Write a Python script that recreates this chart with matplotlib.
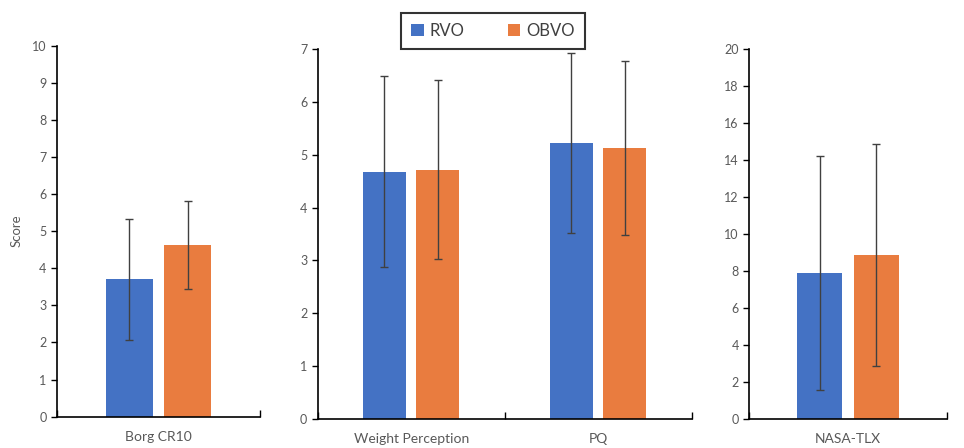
import numpy as np
import matplotlib.pyplot as plt

# Data (mean and SD per questionnaire)
groups = ['RVO', 'OBVO']
borg_labels = ['Borg CR10']
borg_rvo = [3.70]
borg_rvo_sd = [1.63]
borg_obvo = [4.63]
borg_obvo_sd = [1.19]

mid_labels = ['Weight Perception', 'PQ']
mid_rvo = [4.68, 5.22]
mid_rvo_sd = [1.80, 1.71]
mid_obvo = [4.72, 5.13]
mid_obvo_sd = [1.70, 1.64]

tlx_labels = ['NASA-TLX']
tlx_rvo = [7.88]
tlx_rvo_sd = [6.35]
tlx_obvo = [8.87]
tlx_obvo_sd = [6.00]

blue = '#4472C4'
orange = '#E97C3F'
grey_text = '#595959'

plt.rcParams['font.family'] = ['Lato', 'DejaVu Sans']

fig = plt.figure(figsize=(9.64, 4.48), dpi=100)
ax1 = fig.add_axes([0.0591, 0.070, 0.2106, 0.828])
ax2 = fig.add_axes([0.3296, 0.0647, 0.3879, 0.8259])
ax3 = fig.add_axes([0.7773, 0.0654, 0.2047, 0.8252])

width = 0.23
offset = 0.143
err_kw = dict(ecolor='#404040', elinewidth=1, capsize=3, capthick=1)


def panel(ax, labels, rvo, rvo_sd, obvo, obvo_sd, ymax, step):
    x = np.arange(len(labels))
    b1 = ax.bar(x - offset, rvo, width, yerr=rvo_sd, color=blue, error_kw=err_kw, label=groups[0])
    b2 = ax.bar(x + offset, obvo, width, yerr=obvo_sd, color=orange, error_kw=err_kw, label=groups[1])
    ax.set_xlim(-0.5, len(labels) - 0.5)
    ax.set_ylim(0, ymax)
    ax.set_yticks(np.arange(0, ymax + step / 2, step))
    ax.set_xticks(x)
    ax.set_xticklabels(labels, fontsize=10, color=grey_text)
    ax.set_xticks(np.arange(len(labels) + 1) - 0.5, minor=True)
    ax.tick_params(axis='x', which='major', length=0, pad=10)
    ax.tick_params(axis='x', which='minor', direction='in', length=5, width=1, color='black')
    ax.tick_params(axis='y', labelsize=9, labelcolor=grey_text, length=4, width=1, color='black')
    for s in ['top', 'right']:
        ax.spines[s].set_visible(False)
    for s in ['left', 'bottom']:
        ax.spines[s].set_linewidth(1.2)
        ax.spines[s].set_color('black')
    return b1, b2


panel(ax1, borg_labels, borg_rvo, borg_rvo_sd, borg_obvo, borg_obvo_sd, 10, 1)
h = panel(ax2, mid_labels, mid_rvo, mid_rvo_sd, mid_obvo, mid_obvo_sd, 7, 1)
panel(ax3, tlx_labels, tlx_rvo, tlx_rvo_sd, tlx_obvo, tlx_obvo_sd, 20, 2)

ax1.set_ylabel('Score', fontsize=9.5, color=grey_text, labelpad=7)

leg = fig.legend(h, groups, loc='center', bbox_to_anchor=(0.5114, 0.9308),
                 ncol=2, fontsize=12, frameon=True, fancybox=False,
                 handlelength=0.75, handleheight=0.75, handletextpad=0.35,
                 columnspacing=2.6, borderpad=0.6, borderaxespad=0)
leg.get_frame().set_edgecolor('black')
leg.get_frame().set_linewidth(1.5)
for t in leg.get_texts():
    t.set_color('#404040')

fig.savefig('out.png', dpi=100)
